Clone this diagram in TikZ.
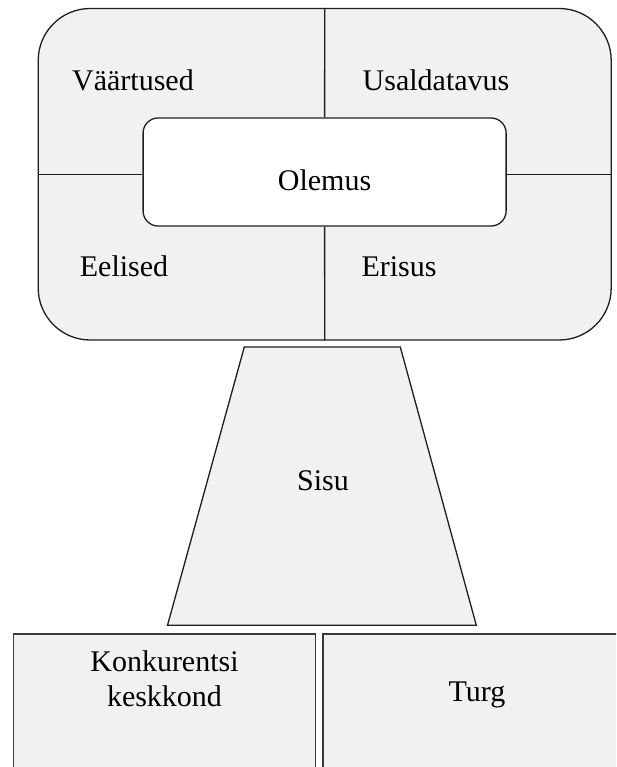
\documentclass[tikz,border=0pt]{standalone}
\usepackage{fontspec}
\setmainfont{Liberation Serif}
\definecolor{panel}{HTML}{F1F1F1}
\definecolor{edge}{HTML}{1E1E1E}
\definecolor{boxedge}{HTML}{3A3A3A}
\begin{document}
\begin{tikzpicture}[x=1pt,y=-1pt,
  outline/.style={draw=edge,line width=1.3pt},
  label/.style={font=\fontsize{30}{34.3}\selectfont,anchor=base,inner sep=0pt,text=black},
  basebox/.style={draw=boxedge,line width=1.7pt,fill=panel}]
\useasboundingbox (0,0) rectangle (616,767);
\clip (0,0) rectangle (616,767);

% upper block: rounded frame split into four quarters
\node[outline,fill=panel,rounded corners=52pt,minimum width=573pt,minimum height=331.5pt,inner sep=0pt]
  (frame) at (324.7,174.25) {};
\node[outline,fill=white,rounded corners=15pt,minimum width=363pt,minimum height=108pt,inner sep=0pt]
  (core) at (324.6,172) {};
\draw[outline] (frame.north) -- (core.north);
\draw[outline] (core.south) -- (frame.south);
\draw[outline] (frame.west) -- (frame.west -| core.west);
\draw[outline] (frame.east -| core.east) -- (frame.east);

\node[label] (values) at (133,90.7) {Väärtused};
\node[label] (trust) at (436,90.7) {Usaldatavus};
\node[label] (essence) at (324.5,190.7) {Olemus};
\node[label] (benefits) at (124,276) {Eelised};
\node[label] (distinct) at (399,276) {Erisus};

% trapezoid in the middle
\coordinate (tl) at (244.3,347);
\coordinate (tr) at (400.3,347);
\coordinate (br) at (476.3,625.3);
\coordinate (bl) at (167.5,625.3);
\draw[outline,fill=panel] (tl) -- (tr) -- (br) -- (bl) -- cycle;
\node[label] (content) at (323,490.7) {Sisu};

% base boxes, running past the lower and right edges
\draw[basebox] (13.5,634) rectangle (315.5,800);
\draw[basebox] (322.8,634) rectangle (660,800);
\node[label,align=center] (competition) at (164.5,706) {Konkurentsi\\keskkond};
\node[label] (market) at (477,701.7) {Turg};
\end{tikzpicture}
\end{document}
